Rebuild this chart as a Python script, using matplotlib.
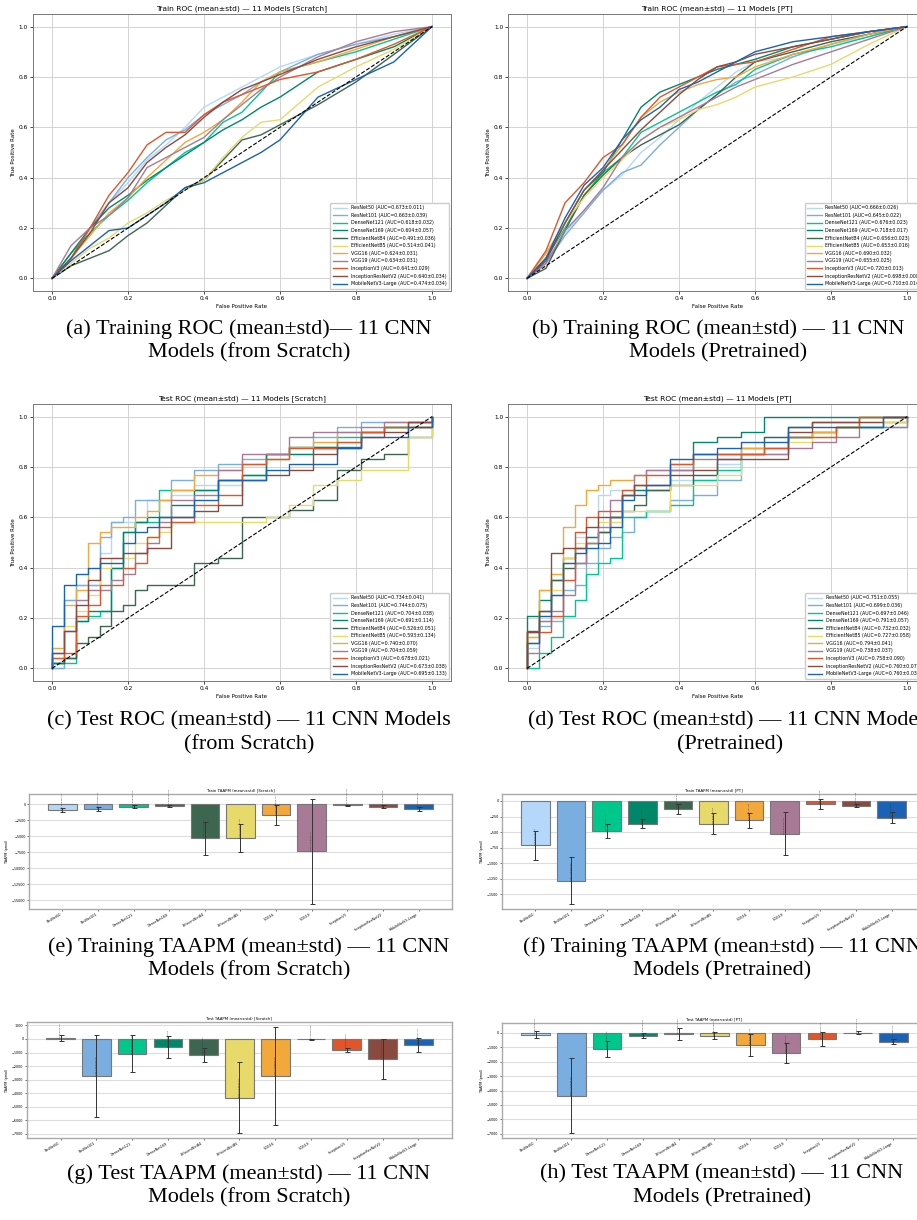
import matplotlib.pyplot as plt
import numpy as np

# Model names and colours
models = ['ResNet50', 'ResNet101', 'DenseNet121', 'DenseNet169', 'EfficientNetB4',
          'EfficientNetB5', 'VGG16', 'VGG19', 'InceptionV3', 'InceptionResNetV2',
          'MobileNetV3-Large']
colors = ['#b5d8fa', '#7aaee0', '#00c78c', '#00876a', '#3d6650', '#e8d96b',
          '#f2a83b', '#a87a96', '#e2552a', '#8a4a40', '#1a62b5']

# AUC mean / std per panel
auc_train_scratch = [0.673, 0.663, 0.618, 0.604, 0.491, 0.514, 0.624, 0.634, 0.641, 0.640, 0.474]
auc_train_scratch_sd = [0.011, 0.039, 0.032, 0.057, 0.036, 0.041, 0.031, 0.031, 0.029, 0.034, 0.034]
auc_train_pt = [0.666, 0.645, 0.676, 0.718, 0.656, 0.653, 0.690, 0.655, 0.720, 0.698, 0.710]
auc_train_pt_sd = [0.026, 0.022, 0.023, 0.017, 0.023, 0.016, 0.032, 0.025, 0.013, 0.008, 0.014]
auc_test_scratch = [0.734, 0.744, 0.704, 0.691, 0.526, 0.593, 0.740, 0.704, 0.678, 0.673, 0.695]
auc_test_scratch_sd = [0.041, 0.075, 0.038, 0.114, 0.051, 0.134, 0.070, 0.059, 0.021, 0.038, 0.133]
auc_test_pt = [0.751, 0.699, 0.697, 0.791, 0.732, 0.727, 0.794, 0.738, 0.758, 0.760, 0.760]
auc_test_pt_sd = [0.055, 0.036, 0.046, 0.057, 0.032, 0.058, 0.041, 0.037, 0.090, 0.071, 0.032]

# Mean ROC curves
train_fpr = [0, .05, .1, .15, .2, .25, .3, .35, .4, .45, .5, .55, .6, .7, .8, .9, 1.0]
tpr_train_scratch = [
    [0, .07, .20, .30, .38, .47, .53, .60, .68, .72, .76, .80, .84, .89, .93, .97, 1],
    [0, .08, .20, .30, .40, .48, .55, .59, .65, .69, .73, .78, .82, .89, .93, .96, 1],
    [0, .10, .18, .25, .31, .38, .44, .50, .54, .62, .66, .74, .82, .86, .90, .95, 1],
    [0, .10, .20, .28, .33, .39, .44, .49, .54, .59, .63, .68, .72, .82, .87, .92, 1],
    [0, .05, .08, .11, .17, .22, .29, .36, .39, .47, .55, .57, .61, .69, .78, .89, 1],
    [0, .06, .12, .16, .22, .26, .31, .35, .39, .48, .56, .62, .63, .76, .84, .91, 1],
    [0, .08, .17, .26, .32, .40, .47, .54, .58, .63, .70, .78, .82, .86, .91, .96, 1],
    [0, .13, .20, .25, .32, .44, .48, .52, .56, .63, .69, .75, .80, .88, .94, .98, 1],
    [0, .08, .20, .33, .42, .53, .58, .58, .65, .70, .73, .76, .79, .82, .87, .93, 1],
    [0, .08, .18, .30, .36, .46, .52, .57, .64, .70, .75, .78, .81, .87, .92, .96, 1],
    [0, .07, .13, .19, .20, .25, .30, .36, .38, .42, .46, .50, .55, .72, .79, .86, 1],
]
tpr_train_pt = [
    [0, .07, .18, .27, .35, .41, .50, .56, .63, .70, .76, .82, .86, .88, .93, .96, 1],
    [0, .06, .17, .26, .35, .42, .45, .53, .60, .67, .73, .78, .81, .88, .93, .97, 1],
    [0, .08, .20, .33, .42, .48, .58, .62, .66, .70, .74, .77, .83, .89, .92, .96, 1],
    [0, .08, .22, .35, .42, .55, .68, .74, .77, .80, .83, .85, .87, .92, .95, .98, 1],
    [0, .04, .19, .33, .41, .48, .53, .57, .61, .67, .73, .80, .86, .90, .94, .97, 1],
    [0, .10, .22, .32, .40, .47, .55, .60, .63, .67, .69, .72, .76, .80, .85, .93, 1],
    [0, .10, .22, .35, .43, .53, .64, .70, .74, .77, .79, .80, .84, .89, .93, .97, 1],
    [0, .06, .19, .27, .36, .48, .55, .60, .64, .68, .72, .76, .79, .85, .90, .95, 1],
    [0, .11, .30, .38, .48, .53, .64, .72, .76, .80, .84, .85, .86, .91, .96, .98, 1],
    [0, .07, .22, .35, .43, .51, .59, .66, .73, .79, .84, .86, .89, .92, .95, .98, 1],
    [0, .08, .24, .37, .44, .55, .63, .68, .75, .78, .82, .86, .90, .94, .96, .98, 1],
]
test_fpr = [0, .031, .062, .094, .125, .156, .188, .219, .25, .281, .312, .375, .438,
            .5, .562, .625, .688, .75, .812, .875, .938, 1.0]
tpr_test_scratch = [
    [0, .27, .33, .33, .46, .58, .58, .58, .67, .67, .69, .73, .73, .75, .83, .85, .87, .90, .94, .96, .98, 1],
    [0, .27, .33, .33, .52, .58, .60, .67, .67, .67, .75, .79, .81, .83, .85, .88, .92, .96, .98, .98, .98, 1],
    [.02, .02, .19, .21, .23, .40, .54, .58, .58, .71, .71, .71, .75, .77, .85, .88, .88, .92, .94, .96, .98, 1],
    [.02, .04, .19, .23, .23, .40, .54, .58, .60, .60, .65, .71, .75, .77, .85, .85, .88, .88, .94, .96, .96, 1],
    [.02, .04, .10, .125, .17, .23, .25, .31, .33, .33, .33, .42, .44, .60, .60, .63, .67, .79, .83, .85, .92, 1],
    [.04, .17, .23, .29, .40, .44, .44, .50, .52, .54, .58, .58, .58, .58, .60, .65, .73, .75, .79, .79, .92, 1],
    [.08, .25, .31, .50, .54, .56, .56, .60, .625, .67, .71, .77, .79, .81, .83, .88, .90, .94, .94, .96, .96, 1],
    [.06, .15, .27, .31, .31, .35, .375, .46, .50, .58, .67, .69, .79, .85, .85, .92, .94, .94, .96, .98, .98, 1],
    [.04, .06, .21, .25, .33, .33, .40, .42, .52, .56, .58, .65, .69, .81, .83, .875, .875, .90, .94, .96, .96, 1],
    [.06, .15, .25, .35, .44, .44, .46, .46, .48, .48, .60, .625, .65, .75, .77, .79, .85, .875, .92, .94, .98, 1],
    [.17, .33, .375, .40, .42, .42, .50, .54, .56, .60, .60, .67, .75, .75, .79, .81, .81, .875, .92, .92, .96, 1],
]
tpr_test_pt = [
    [.08, .19, .29, .42, .52, .52, .69, .71, .71, .71, .73, .75, .75, .81, .85, .92, .92, .94, .96, .96, .98, 1],
    [.10, .17, .19, .31, .33, .42, .48, .52, .54, .60, .625, .67, .69, .75, .85, .85, .92, .94, .96, .96, .96, 1],
    [0, .06, .125, .21, .27, .375, .42, .44, .60, .60, .625, .65, .75, .79, .85, .875, .92, .94, .96, .96, .98, 1],
    [.21, .27, .35, .44, .48, .52, .54, .60, .69, .71, .71, .79, .90, .92, .94, 1, 1, 1, 1, 1, 1, 1],
    [.15, .23, .35, .40, .42, .50, .54, .60, .625, .65, .71, .73, .77, .85, .875, .92, .96, .98, .98, 1, 1, 1],
    [.125, .31, .31, .44, .50, .50, .58, .58, .625, .625, .625, .73, .73, .77, .85, .875, .90, .92, .96, .98, .98, 1],
    [.125, .31, .375, .56, .65, .71, .73, .75, .75, .77, .79, .81, .85, .85, .875, .875, .92, .94, .96, 1, 1, 1],
    [.06, .19, .23, .29, .42, .50, .56, .67, .69, .77, .79, .79, .83, .83, .85, .85, .875, .90, .92, .96, .96, 1],
    [.145, .145, .21, .35, .54, .60, .625, .625, .71, .73, .77, .81, .85, .85, .85, .875, .92, .92, .96, 1, 1, 1],
    [.145, .23, .46, .48, .48, .56, .60, .60, .69, .73, .73, .77, .79, .83, .83, .83, .94, .98, .98, .98, 1, 1],
    [.10, .21, .29, .42, .46, .48, .50, .56, .67, .69, .73, .83, .85, .875, .90, .90, .96, .96, .96, .96, 1, 1],
]

# TAAPM mean / std per panel
taapm_train_scratch = [-940, -780, -360, -310, -5360, -5310, -1720, -7400, -160, -360, -730]
taapm_train_scratch_sd = [310, 320, 260, 110, 2600, 2240, 1560, 8230, 100, 260, 360]
taapm_train_pt = [-715, -1281, -475, -363, -123, -363, -310, -523, -48, -75, -267]
taapm_train_pt_sd = [235, 380, 112, 70, 80, 165, 117, 347, 75, 21, 85]
taapm_test_scratch = [74, -2736, -1085, -592, -1183, -4338, -2760, -25, -813, -1479, -444]
taapm_test_scratch_sd = [200, 3030, 1355, 813, 517, 2612, 3620, 30, 148, 1479, 517]
taapm_test_pt = [-116, -4358, -1113, -185, -70, -185, -835, -1391, -417, 10, -603]
taapm_test_pt_sd = [232, 2596, 580, 163, 394, 232, 741, 695, 510, 100, 162]

fig = plt.figure(figsize=(9.17, 12.2), dpi=100)


def roc_panel(rect, fpr, tprs, aucs, sds, title, steps=False):
    ax = fig.add_axes(rect)
    for m, c, t, a, s in zip(models, colors, tprs, aucs, sds):
        lab = f'{m} (AUC={a:.3f}\u00b1{s:.3f})'
        if steps:
            ax.plot([0] + fpr, [0] + t, color=c, lw=1.0, drawstyle='steps-post', label=lab)
        else:
            ax.plot([0] + fpr, [0] + t, color=c, lw=1.0, label=lab)
    ax.plot([0, 1], [0, 1], 'k--', lw=0.8)
    ax.set_xlim(-0.05, 1.05)
    ax.set_ylim(-0.05, 1.05)
    ax.set_title(title, fontsize=5.4, pad=3)
    ax.set_xlabel('False Positive Rate', fontsize=4, labelpad=2)
    ax.set_ylabel('True Positive Rate', fontsize=4, labelpad=2)
    ax.tick_params(labelsize=4.2, length=2, width=0.5, pad=1.5)
    ax.grid(True, color='#cccccc', lw=0.6)
    for sp in ax.spines.values():
        sp.set_color('#777777')
        sp.set_linewidth(0.7)
    ax.legend(loc='lower right', fontsize=3.4, handlelength=3, framealpha=1,
              edgecolor='#cccccc', borderpad=0.5, labelspacing=0.55)
    return ax


def bar_panel(rect, vals, sds, title, yticks):
    ax = fig.add_axes(rect)
    x = np.arange(len(models))
    ax.bar(x, vals, 0.8, color=colors, edgecolor='#777777', linewidth=0.8, zorder=2)
    ax.errorbar(x, vals, yerr=sds, fmt='none', ecolor='#333333', elinewidth=0.7,
                capsize=1.8, capthick=0.7, zorder=3)
    for xi, v, s in zip(x, vals, sds):
        ax.text(xi, v, f'{v:.2f}\u00b1{s:.2f}', rotation=90, ha='center', va='bottom',
                fontsize=1.6, color='#333333', zorder=4)
    ax.set_xticks(x)
    ax.set_xticklabels(models, rotation=30, ha='right', fontsize=2.4)
    ax.set_yticks(yticks)
    ax.tick_params(axis='y', labelsize=2.4, length=1.5, width=0.4, pad=1)
    ax.tick_params(axis='x', length=1.5, width=0.4, pad=1)
    ax.set_ylabel('TAAPM (pmol)', fontsize=2.4, labelpad=2)
    ax.set_title(title, fontsize=2.8, pad=2)
    ax.yaxis.grid(True, color='#dddddd', lw=0.8, zorder=0)
    ax.set_axisbelow(True)
    for sp in ax.spines.values():
        sp.set_color('#aaaaaa')
        sp.set_linewidth(1.0)
    return ax


roc_panel([0.036, 0.7615, 0.4558, 0.227], train_fpr, tpr_train_scratch,
          auc_train_scratch, auc_train_scratch_sd,
          'Train ROC (mean\u00b1std) \u2014 11 Models [Scratch]')
roc_panel([0.554, 0.7615, 0.4558, 0.227], train_fpr, tpr_train_pt,
          auc_train_pt, auc_train_pt_sd,
          'Train ROC (mean\u00b1std) \u2014 11 Models [PT]')
roc_panel([0.036, 0.4418, 0.4558, 0.227], test_fpr, tpr_test_scratch,
          auc_test_scratch, auc_test_scratch_sd,
          'Test ROC (mean\u00b1std) \u2014 11 Models [Scratch]', steps=True)
roc_panel([0.554, 0.4418, 0.4558, 0.227], test_fpr, tpr_test_pt,
          auc_test_pt, auc_test_pt_sd,
          'Test ROC (mean\u00b1std) \u2014 11 Models [PT]', steps=True)

ax = bar_panel([0.0316, 0.2549, 0.4613, 0.0943], taapm_train_scratch, taapm_train_scratch_sd,
               'Train TAAPM (mean\u00b1std) [Scratch]', np.arange(-15000, 1, 2500))
ax.set_ylim(-16400, 1600)
ax = bar_panel([0.5474, 0.2549, 0.4613, 0.0943], taapm_train_pt, taapm_train_pt_sd,
               'Train TAAPM (mean\u00b1std) [PT]', np.arange(-1500, 1, 250))
ax.set_ylim(-1735, 112)
ax = bar_panel([0.0294, 0.0672, 0.4635, 0.0951], taapm_test_scratch, taapm_test_scratch_sd,
               'Test TAAPM (mean\u00b1std) [Scratch]', np.arange(-7000, 1001, 1000))
ax.set_ylim(-7320, 1257)
ax = bar_panel([0.5474, 0.0672, 0.4635, 0.0943], taapm_test_pt, taapm_test_pt_sd,
               'Test TAAPM (mean\u00b1std) [PT]', np.arange(-7000, 1, 1000))
ax.set_ylim(-7300, 695)

# Sub-figure captions
captions = [
    (249, 330, '(a) Training ROC (mean\u00b1std)\u2014 11 CNN\nModels (from Scratch)'),
    (718, 330, '(b) Training ROC (mean\u00b1std) \u2014 11 CNN\nModels (Pretrained)'),
    (249, 722, '(c) Test ROC (mean\u00b1std) \u2014 11 CNN Models\n(from Scratch)'),
    (730, 722, '(d) Test ROC (mean\u00b1std) \u2014 11 CNN Models\n(Pretrained)'),
    (249, 948, '(e) Training TAAPM (mean\u00b1std) \u2014 11 CNN\nModels (from Scratch)'),
    (722, 948, '(f) Training TAAPM (mean\u00b1std) \u2014 11 CNN\nModels (Pretrained)'),
    (249, 1175, '(g) Test TAAPM (mean\u00b1std) \u2014 11 CNN\nModels (from Scratch)'),
    (722, 1175, '(h) Test TAAPM (mean\u00b1std) \u2014 11 CNN\nModels (Pretrained)'),
]
for cx, cy, txt in captions:
    fig.text(cx / 917, 1 - (cy - 11) / 1220, txt, ha='center', va='top',
             fontsize=16, family='Liberation Serif', linespacing=1.33)

fig.savefig('out.png', dpi=100)
